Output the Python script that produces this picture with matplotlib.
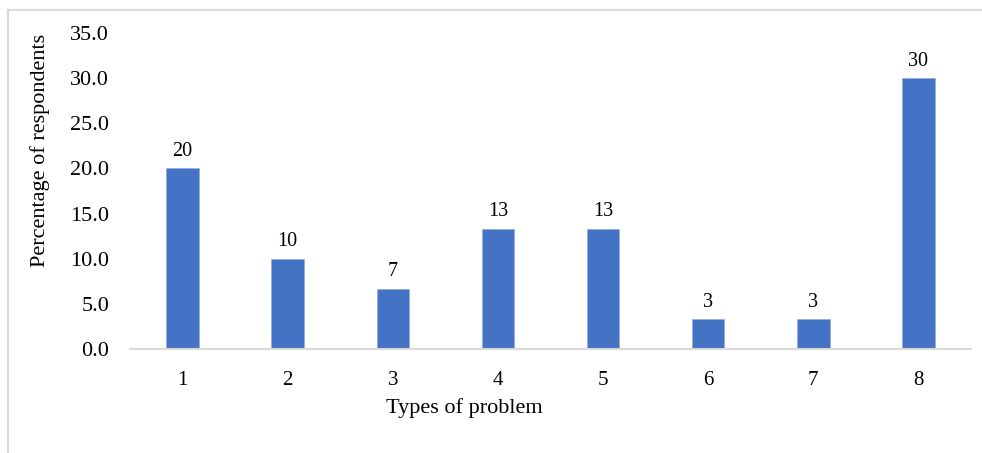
import numpy as np
import matplotlib.pyplot as plt
from matplotlib.lines import Line2D

problem_types = ['1', '2', '3', '4', '5', '6', '7', '8']
percentages = [20.0, 10.0, 6.7, 13.3, 13.3, 3.3, 3.3, 30.0]
y_ticks = [0, 5, 10, 15, 20, 25, 30, 35]

plt.rcParams['font.family'] = ['Liberation Serif', 'DejaVu Serif']

W, H = 982, 453
fig = plt.figure(figsize=(W / 100, H / 100), dpi=100)
ax = fig.add_axes([130 / W, 1 - 349 / H, 841 / W, 316 / H])

x = np.arange(1, len(problem_types) + 1)
bars = ax.bar(x, percentages, width=0.31, color='#4472C4',
              edgecolor='#8FAADC', linewidth=0.4)
for xi, v in zip(x, percentages):
    ax.annotate('%.0f' % v, (xi, v), xytext=(0, 5.5), textcoords='offset points',
                ha='center', va='bottom', fontsize=14.5)

ax.set_xlim(0.5, 8.5)
ax.set_ylim(0, 35)
ax.set_xticks(x)
ax.set_xticklabels(problem_types, fontsize=15)
ax.set_yticks(y_ticks)
ax.set_yticklabels(['%.1f' % t for t in y_ticks], fontsize=16)
ax.tick_params(axis='both', length=0)
ax.tick_params(axis='x', pad=16)
ax.tick_params(axis='y', pad=15)
for side in ['top', 'right', 'left']:
    ax.spines[side].set_visible(False)
ax.spines['bottom'].set_color('#D9D9D9')
ax.spines['bottom'].set_linewidth(1.5)

fig.text(464 / W, 1 - 408 / H, 'Types of problem', ha='center', va='center',
         fontsize=16)
fig.text(40 / W, 1 - 150 / H, 'Percentage of respondents', ha='center',
         va='center', rotation=90, fontsize=16)

# light frame around the chart area
fig.add_artist(Line2D([8 / W, 8 / W], [0, 1 - 10 / H], color='#D9D9D9',
                      lw=1.5, transform=fig.transFigure))
fig.add_artist(Line2D([8 / W, 1], [1 - 10 / H, 1 - 10 / H], color='#D9D9D9',
                      lw=1.5, transform=fig.transFigure))

fig.savefig('out.png', dpi=100)
